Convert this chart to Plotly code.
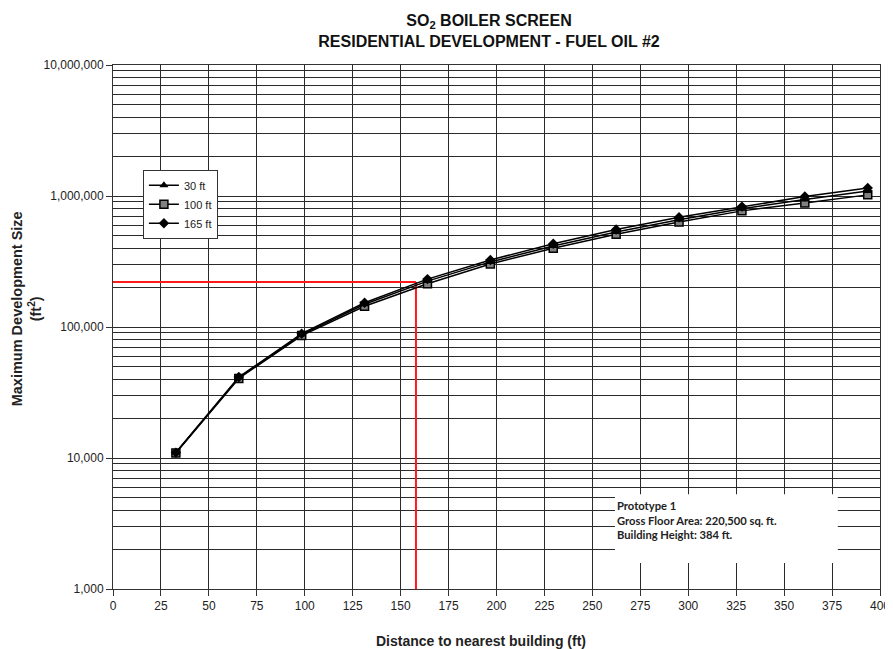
import plotly.graph_objects as go

# ---- data ----
distance_ft = [32.8, 65.6, 98.4, 131.2, 164.0, 196.8, 229.6, 262.4, 295.2, 328.0, 360.8, 393.6]
size_30ft = [11000, 41000, 87500, 149000, 224000, 314000, 415000, 532000, 660000, 800000, 940000, 1090000]
size_100ft = [10900, 40500, 86000, 144000, 214000, 303000, 399000, 510000, 632000, 770000, 885000, 1020000]
size_165ft = [11000, 41500, 89000, 153000, 232000, 325000, 432000, 555000, 688000, 830000, 990000, 1150000]
series_names = ["30 ft", "100 ft", "165 ft"]

x_ticks = list(range(0, 401, 25))
y_tickvals = [1000, 10000, 100000, 1000000, 10000000]
y_ticktext = ["1,000", "10,000", "100,000", "1,000,000", "10,000,000"]

target_area = 220500      # gross floor area (sq. ft.)
target_distance = 158     # distance (ft)
y_min = 1000

fig = go.Figure()

# red reference lines
fig.add_trace(go.Scatter(x=[0, target_distance], y=[target_area, target_area], mode="lines",
                         line=dict(color="#ff1a1a", width=2), showlegend=False, hoverinfo="skip"))
fig.add_trace(go.Scatter(x=[target_distance, target_distance], y=[target_area, y_min], mode="lines",
                         line=dict(color="#ff1a1a", width=2), showlegend=False, hoverinfo="skip"))

fig.add_trace(go.Scatter(x=distance_ft, y=size_100ft, name=series_names[1], mode="lines+markers",
                         line=dict(color="black", width=1.5), legendrank=2,
                         marker=dict(symbol="square", size=8, color="#808080", line=dict(color="black", width=1.5))))
fig.add_trace(go.Scatter(x=distance_ft, y=size_30ft, name=series_names[0], mode="lines+markers",
                         line=dict(color="black", width=1.5), legendrank=1,
                         marker=dict(symbol="triangle-up", size=8, color="black")))
fig.add_trace(go.Scatter(x=distance_ft, y=size_165ft, name=series_names[2], mode="lines+markers",
                         line=dict(color="black", width=1.5), legendrank=3,
                         marker=dict(symbol="diamond", size=8, color="black")))

grid_col = "#2a2a2a"
W, H = 885, 641
fig.update_layout(
    template="none",
    width=W, height=H,
    margin=dict(l=105, r=13, t=57, b=60, autoexpand=False),
    paper_bgcolor="white", plot_bgcolor="white",
    font=dict(family="Liberation Sans, Arial", size=12, color="#222"),
    title=dict(text="<b>SO<sub>2</sub> BOILER SCREEN<br>RESIDENTIAL DEVELOPMENT - FUEL OIL #2</b>",
               x=481 / W, xanchor="center", y=1 - 18 / H, yanchor="top",
               font=dict(family="Liberation Sans, Arial", size=16, color="#111")),
    legend=dict(x=0.039, y=0.80, xanchor="left", yanchor="top", bgcolor="white",
                bordercolor="#333", borderwidth=1, traceorder="normal", itemwidth=30,
                font=dict(size=11, color="#222"), tracegroupgap=0),
    showlegend=True,
)
fig.update_xaxes(range=[0, 400], tickvals=x_ticks, showgrid=True, gridcolor=grid_col, gridwidth=1,
                 showline=True, linecolor="#333", linewidth=1, mirror=True, automargin=False,
                 ticks="outside", ticklen=6, tickcolor="#333", zeroline=False)
fig.update_yaxes(type="log", range=[3, 7], tickvals=y_tickvals, ticktext=y_ticktext,
                 showgrid=True, gridcolor=grid_col, gridwidth=1, automargin=False,
                 minor=dict(dtick="D1", showgrid=True, gridcolor=grid_col, gridwidth=1, ticks=""),
                 showline=True, linecolor="#333", linewidth=1, mirror=True,
                 ticks="outside", ticklen=6, tickcolor="#333", zeroline=False)

# axis titles as annotations
fig.add_annotation(text="<b>Maximum Development Size<br>(ft<sup>2</sup>)</b>", xref="paper", yref="paper",
                   x=-0.138, y=0.535, textangle=-90, showarrow=False,
                   font=dict(size=14.5, color="#222"))
fig.add_annotation(text="<b>Distance to nearest building (ft)</b>", xref="paper", yref="paper",
                   x=0.48, y=-0.118, showarrow=False, font=dict(size=14, color="#222"))

# prototype info box
fig.add_shape(type="rect", xref="paper", yref="paper", x0=0.6545, x1=0.945, y0=0.0496, y1=0.181,
              fillcolor="white", line=dict(width=0), layer="above")
fig.add_annotation(text="<b>Prototype 1<br>Gross Floor Area: 220,500 sq. ft.<br>Building Height: 384 ft.</b>",
                   xref="paper", yref="paper", x=0.655, y=0.176, xanchor="left", yanchor="top",
                   align="left", showarrow=False,
                   font=dict(family="Lato, Open Sans", size=11.2, color="#222"))

fig.write_html("out.html")
